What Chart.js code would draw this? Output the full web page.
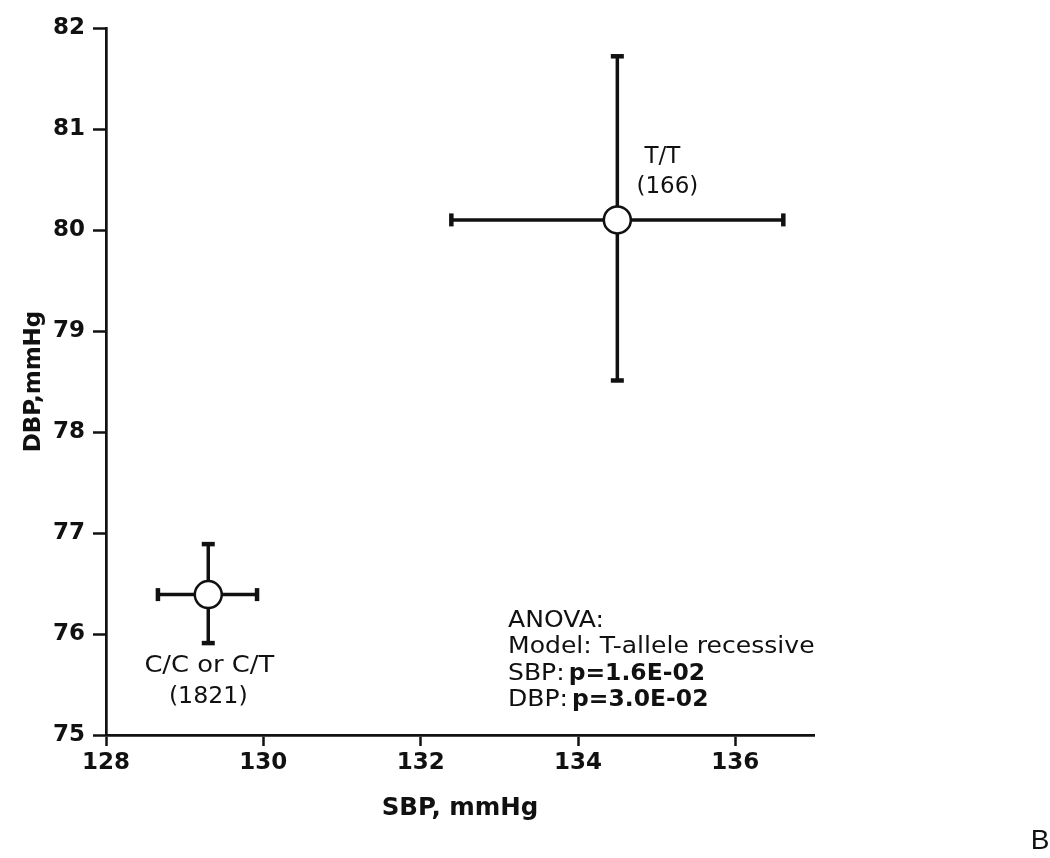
<!DOCTYPE html>
<html>
<head>
<meta charset="utf-8">
<title>SBP vs DBP by genotype</title>
<script src="https://cdn.jsdelivr.net/npm/chart.js"></script>
<style>
  body { margin: 0; background: #fff; }
  #wrap { width: 1050px; height: 858px; position: relative; }
</style>
</head>
<body>
<div id="wrap"><canvas id="bpChart"></canvas></div>
<script>
// genotype groups + sample size
const groups = ['C/C or C/T', 'T/T'];
const groupN = [1821, 166];

// SBP (x) mean and error bar ends, mmHg
const sbpMean = [129.3, 134.5];
const sbpLow = [128.66, 132.39];
const sbpHigh = [129.92, 136.61];

// DBP (y) mean and error bar ends, mmHg
const dbpMean = [76.39, 80.1];
const dbpLow = [75.91, 78.51];
const dbpHigh = [76.89, 81.72];

// tick labels
const sbpTicks = [128, 130, 132, 134, 136];
const dbpTicks = [75, 76, 77, 78, 79, 80, 81, 82];

// anova box text: [normal part, bold part]
const anovaLines = [
    ['ANOVA:', ''],
    ['Model: T-allele recessive', ''],
    ['SBP: ', 'p=1.6E-02'],
    ['DBP: ', 'p=3.0E-02']
];

const INK = '#111';
const FONT = '"DejaVu Sans", sans-serif';
Chart.defaults.font.family = FONT;
Chart.defaults.color = INK;

// one error bar = 2 point line with 'line' shaped caps
function barDataset(points, rot) {
    return {
        data: points,
        showLine: true,
        borderColor: INK,
        borderWidth: 3.5,
        pointStyle: 'line',
        pointRotation: rot,
        pointRadius: 6.5,
        pointHoverRadius: 6.5,
        pointBorderColor: INK,
        pointBorderWidth: 4.5,
        order: 2
    };
}

const datasets = [{
    // open circles for the means, on top of the bars
    data: groups.map((g, i) => ({ x: sbpMean[i], y: dbpMean[i] })),
    pointRadius: 13.5,
    pointHoverRadius: 13.5,
    pointBackgroundColor: '#fff',
    pointBorderColor: INK,
    pointBorderWidth: 2.5,
    order: 0
}];
groups.forEach((g, i) => {
    datasets.push(barDataset([{ x: sbpLow[i], y: dbpMean[i] }, { x: sbpHigh[i], y: dbpMean[i] }], 90));
    datasets.push(barDataset([{ x: sbpMean[i], y: dbpLow[i] }, { x: sbpMean[i], y: dbpHigh[i] }], 0));
});

// text a bit wider than the font gives, like the source figure
function wideText(ctx, str, x, y, sx) {
    ctx.save();
    ctx.translate(x, y);
    ctx.scale(sx, 1);
    ctx.fillText(str, 0, 0);
    ctx.restore();
}

// group labels, anova text and panel letter
const textPlugin = {
    id: 'bpText',
    afterDatasetsDraw(chart) {
        const { ctx, scales: { x, y }, chartArea } = chart;
        ctx.save();
        ctx.fillStyle = INK;
        ctx.textAlign = 'center';
        ctx.textBaseline = 'middle';
        ctx.font = '23px ' + FONT;
        groups.forEach((g, i) => {
            const px = x.getPixelForValue(sbpMean[i]);
            const py = y.getPixelForValue(dbpMean[i]);
            const n = '(' + groupN[i] + ')';
            if (i === 1) {
                // T/T label sits up and right of the marker
                wideText(ctx, g, px + 45, py - 63, 1.0);
                wideText(ctx, n, px + 50, py - 33, 1.0);
            } else {
                wideText(ctx, g, px + 1, py + 71, 1.12);
                wideText(ctx, n, px, py + 102, 1.03);
            }
        });

        ctx.textAlign = 'left';
        const sx = 1.09;
        const left = chartArea.left + 402;
        let ty = chartArea.bottom - 114;
        anovaLines.forEach(([plain, bold]) => {
            ctx.font = '23px ' + FONT;
            wideText(ctx, plain, left, ty, sx);
            if (bold) {
                const w = ctx.measureText(plain).width * sx;
                ctx.font = 'bold 23px ' + FONT;
                wideText(ctx, bold, left + w - 4, ty, 1.02);
            }
            ty += 26.5;
        });

        ctx.textAlign = 'center';
        ctx.font = '28px "Liberation Sans", sans-serif';
        ctx.fillText('B', 1040, 841);
        ctx.restore();
    }
};

const tickFont = { family: FONT, size: 23, weight: 'bold' };
const titleFont = { family: FONT, size: 24.5, weight: 'bold' };

new Chart(document.getElementById('bpChart'), {
    type: 'scatter',
    data: { datasets: datasets },
    options: {
        responsive: true,
        maintainAspectRatio: false,
        animation: false,
        layout: { padding: { left: 0, right: 236, top: 28, bottom: 0 } },
        plugins: {
            legend: { display: false },
            tooltip: { enabled: false }
        },
        scales: {
            x: {
                type: 'linear',
                min: 128,
                max: 137,
                afterBuildTicks: s => { s.ticks = sbpTicks.map(v => ({ value: v })); },
                afterFit: s => { s.height = 123; },
                ticks: { font: tickFont, color: INK, padding: 3 },
                grid: { drawOnChartArea: false, drawTicks: true, tickLength: 11, tickWidth: 2.5, tickColor: INK },
                border: { display: true, color: INK, width: 2.7 },
                title: { display: true, text: 'SBP, mmHg', font: titleFont, color: INK, padding: { top: 0, bottom: 35 } }
            },
            y: {
                type: 'linear',
                min: 75,
                max: 82,
                afterBuildTicks: s => { s.ticks = dbpTicks.map(v => ({ value: v })); },
                afterFit: s => { s.width = 106; },
                ticks: { font: tickFont, color: INK, padding: 8 },
                grid: { drawOnChartArea: false, drawTicks: true, tickLength: 13, tickWidth: 2.5, tickColor: INK },
                border: { display: true, color: INK, width: 2.7 },
                title: { display: true, text: 'DBP,mmHg', font: { family: FONT, size: 23, weight: 'bold' }, color: INK, padding: { top: 20, bottom: 0 } }
            }
        }
    },
    plugins: [textPlugin]
});
</script>
</body>
</html>
